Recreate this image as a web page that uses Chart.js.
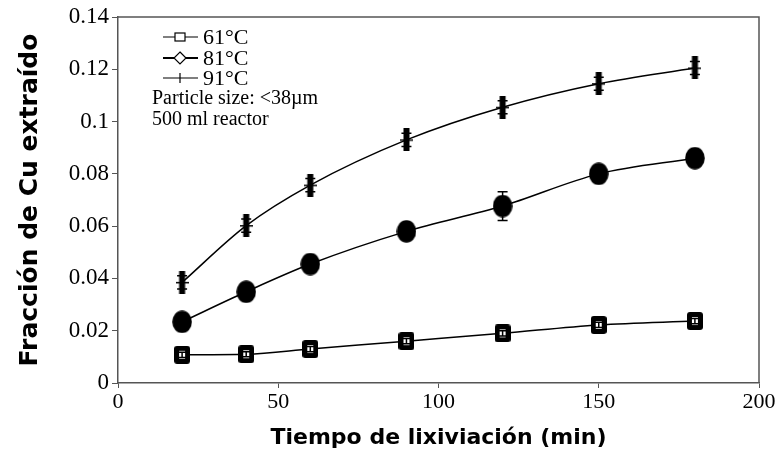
<!DOCTYPE html>
<html>
<head>
<meta charset="utf-8">
<script src="https://cdn.jsdelivr.net/npm/chart.js@4/dist/chart.umd.min.js"></script>
<style>
  html, body { margin: 0; padding: 0; background: #fff; }
  #wrap { width: 779px; height: 457px; }
</style>
</head>
<body>
<div id="wrap"><canvas id="chart" width="779" height="457"></canvas></div>
<script>
// leaching time (min)
const times = [20, 40, 60, 90, 120, 150, 180];
const labels = ["61°C", "81°C", "91°C"];
// fraction of Cu extracted
const cu61 = [0.0108, 0.0110, 0.0130, 0.0160, 0.0190, 0.0222, 0.0237];
const cu81 = [0.0234, 0.0349, 0.0455, 0.0580, 0.0677, 0.0800, 0.0860];
const cu91 = [0.0385, 0.0602, 0.0757, 0.0930, 0.1055, 0.1145, 0.1205];
// error bars (+/-)
const err61 = [0.001, 0.001, 0.001, 0.001, 0.001, 0.001, 0.001];
const err81 = [0.001, 0.001, 0.001, 0.001, 0.0055, 0.001, 0.002];
const err91 = [0.0025, 0.0025, 0.0025, 0.0025, 0.0025, 0.0025, 0.0025];
const xTicks = [0, 50, 100, 150, 200];
const yTicks = [0, 0.02, 0.04, 0.06, 0.08, 0.1, 0.12, 0.14];
const notes = ["Particle size: <38µm", "500 ml reactor"];

// marker images
function squareMarker() {
  const c = document.createElement("canvas");
  c.width = 16; c.height = 18;
  const g = c.getContext("2d");
  g.fillStyle = "#000";
  g.beginPath();
  g.roundRect(0, 0, 16, 18, 3);
  g.fill();
  g.fillStyle = "#fff";
  g.fillRect(5, 5, 6, 8);
  return c;
}
function ellipseMarker() {
  const c = document.createElement("canvas");
  c.width = 20; c.height = 23;
  const g = c.getContext("2d");
  g.fillStyle = "#000";
  g.beginPath();
  g.ellipse(10, 11.5, 9.8, 11.3, 0, 0, Math.PI * 2);
  g.fill();
  return c;
}
function barMarker() {
  const c = document.createElement("canvas");
  c.width = 13; c.height = 23;
  const g = c.getContext("2d");
  g.fillStyle = "#000";
  g.fillRect(3.5, 0, 6, 23);
  g.fillRect(0, 11, 13, 1.5);
  return c;
}

const sets = [
  { data: cu61, err: err61, marker: squareMarker() },
  { data: cu81, err: err81, marker: ellipseMarker() },
  { data: cu91, err: err91, marker: barMarker() }
];

const errorBars = {
  id: "errorBars",
  afterDatasetsDraw(chart) {
    const ctx = chart.ctx;
    const xs = chart.scales.x, ys = chart.scales.y;
    ctx.save();
    ctx.strokeStyle = "#000";
    ctx.lineWidth = 1.5;
    sets.forEach(s => {
      times.forEach((t, i) => {
        const px = xs.getPixelForValue(t);
        const top = ys.getPixelForValue(s.data[i] + s.err[i]);
        const bot = ys.getPixelForValue(s.data[i] - s.err[i]);
        ctx.beginPath();
        ctx.moveTo(px, top); ctx.lineTo(px, bot);
        ctx.moveTo(px - 5, top); ctx.lineTo(px + 5, top);
        ctx.moveTo(px - 5, bot); ctx.lineTo(px + 5, bot);
        ctx.stroke();
      });
    });
    ctx.restore();
  }
};

const frameAndLegend = {
  id: "frameAndLegend",
  afterDraw(chart) {
    const ctx = chart.ctx;
    const a = chart.chartArea;
    ctx.save();
    // top and right frame
    ctx.strokeStyle = "#555";
    ctx.lineWidth = 1.5;
    ctx.beginPath();
    ctx.moveTo(a.left, a.top);
    ctx.lineTo(a.right, a.top);
    ctx.lineTo(a.right, a.bottom);
    ctx.stroke();

    // legend
    const x0 = 163, x1 = 198, xm = 180, tx = 203;
    const rows = [37, 58, 78];
    ctx.font = "22px 'Liberation Serif'";
    ctx.fillStyle = "#000";
    ctx.textBaseline = "middle";
    labels.forEach((lab, i) => {
      const y = rows[i];
      ctx.strokeStyle = "#000";
      ctx.lineWidth = i === 1 ? 2 : 1.2;
      ctx.beginPath();
      ctx.moveTo(x0, y); ctx.lineTo(x1, y);
      ctx.stroke();
      ctx.lineWidth = 1.2;
      if (i === 0) {
        ctx.fillStyle = "#fff";
        ctx.fillRect(xm - 5, y - 4, 10, 8);
        ctx.strokeRect(xm - 5, y - 4, 10, 8);
      } else if (i === 1) {
        ctx.fillStyle = "#fff";
        ctx.beginPath();
        ctx.moveTo(xm, y - 6); ctx.lineTo(xm + 6, y);
        ctx.lineTo(xm, y + 6); ctx.lineTo(xm - 6, y);
        ctx.closePath();
        ctx.fill(); ctx.stroke();
      } else {
        ctx.beginPath();
        ctx.moveTo(xm, y - 5); ctx.lineTo(xm, y + 5);
        ctx.stroke();
      }
      ctx.fillStyle = "#000";
      ctx.fillText(lab, tx, y + 1);
    });
    ctx.font = "20px 'Liberation Serif'";
    notes.forEach((n, i) => ctx.fillText(n, 152, 99 + i * 21));
    ctx.restore();
  }
};

const ctx = document.getElementById("chart").getContext("2d");
new Chart(ctx, {
  type: "line",
  data: {
    datasets: sets.map((s, k) => ({
      label: labels[k],
      data: times.map((t, i) => ({ x: t, y: s.data[i] })),
      borderColor: "#000",
      borderWidth: 1.5,
      cubicInterpolationMode: "monotone",
      pointStyle: s.marker,
      pointRadius: 10,
      pointHoverRadius: 10,
      fill: false
    }))
  },
  options: {
    responsive: false,
    animation: false,
    events: [],
    layout: { padding: { top: 17, right: 20, left: 0, bottom: 0 } },
    plugins: {
      legend: { display: false },
      tooltip: { enabled: false }
    },
    scales: {
      x: {
        type: "linear",
        min: 0,
        max: 200,
        afterBuildTicks: s => { s.ticks = xTicks.map(v => ({ value: v })); },
        afterFit: s => { s.height = 74; },
        grid: { drawOnChartArea: false, drawTicks: true, tickLength: 5, color: "#555" },
        border: { color: "#555", width: 1.5 },
        ticks: {
          color: "#000",
          padding: 1,
          maxRotation: 0,
          font: { family: "'Liberation Serif'", size: 22 }
        },
        title: {
          display: true,
          text: "Tiempo de lixiviación (min)",
          color: "#000",
          padding: { top: 0, bottom: 6 },
          font: { family: "'DejaVu Sans'", size: 22, weight: "bold" }
        }
      },
      y: {
        min: 0,
        max: 0.14,
        afterBuildTicks: s => { s.ticks = yTicks.map(v => ({ value: v })); },
        afterFit: s => { s.width = 118; },
        grid: { drawOnChartArea: false, drawTicks: true, tickLength: 6, color: "#555" },
        border: { color: "#555", width: 1.5 },
        ticks: {
          color: "#000",
          padding: 3,
          font: { family: "'Liberation Serif'", size: 23 },
          callback: v => String(Math.round(v * 100) / 100)
        },
        title: {
          display: true,
          text: "Fracción de Cu extraído",
          color: "#000",
          padding: { top: 15, bottom: 0 },
          font: { family: "'DejaVu Sans'", size: 25, weight: "bold" }
        }
      }
    }
  },
  plugins: [errorBars, frameAndLegend]
});
</script>
</body>
</html>
